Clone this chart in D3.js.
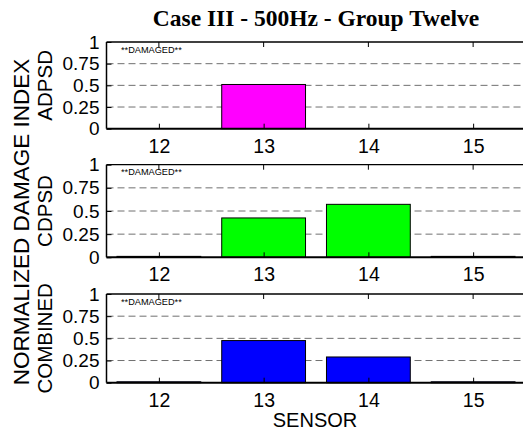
<!DOCTYPE html>
<html><head><meta charset="utf-8">
<script src="https://cdn.jsdelivr.net/npm/d3@7"></script>
<style>body{margin:0;background:#fff}svg{display:block}</style>
</head><body>
<script>
const title = "Case III - 500Hz - Group Twelve";
const sensors = [12, 13, 14, 15];
const adpsd = [0, 0.51, 0, 0];
const cdpsd = [0.01, 0.425, 0.572, 0.01];
const combined = [0.01, 0.475, 0.29, 0.01];
const yTicks = [0, 0.25, 0.5, 0.75, 1];
const yTickLabels = ["0", "0.25", "0.5", "0.75", "1"];
const panelNames = ["ADPSD", "CDPSD", "COMBINED"];
const panelColors = ["#ff00ff", "#00ff00", "#0000ff"];
const series = [adpsd, cdpsd, combined];
const yLabel = "NORMALIZED DAMAGE INDEX";
const xLabel = "SENSOR";
const note = "**DAMAGED**";

const W = 523, H = 430;
const svg = d3.select("body").append("svg").attr("width", W).attr("height", H);
const font = "Liberation Sans, Arial, sans-serif";

const x = d3.scaleLinear().domain([11.5, 15.5]).range([106.5, 525.5]);
const panels = [[42, 128.7], [164.7, 257.3], [294, 382.7]];

svg.append("text").attr("x", 316).attr("y", 26).attr("text-anchor", "middle")
  .attr("font-family", "Liberation Serif, Times New Roman, serif").attr("font-weight", "bold")
  .attr("font-size", 23.5).text(title);

panels.forEach(([top, bottom], i) => {
  const y = d3.scaleLinear().domain([0, 1]).range([bottom, top]);
  const g = svg.append("g");
  g.selectAll("line.grid").data([0.25, 0.5, 0.75]).join("line")
    .attr("x1", x.range()[0]).attr("x2", W).attr("y1", d => y(d)).attr("y2", d => y(d))
    .attr("stroke", "#707070").attr("stroke-width", 1).attr("stroke-dasharray", "7,4");
  const data = sensors.map((s, j) => ({s, v: series[i][j]}));
  const bw = (x(1) - x(0)) * 0.8;
  g.selectAll("rect").data(data.filter(d => d.v > 0)).join("rect")
    .attr("x", d => x(d.s) - bw / 2).attr("width", bw)
    .attr("y", d => y(d.v)).attr("height", d => y(0) - y(d.v))
    .attr("fill", panelColors[i]).attr("stroke", "#000").attr("stroke-width", 1);
  const yAxis = d3.axisLeft(y).tickValues(yTicks).tickFormat((d, k) => yTickLabels[k]).tickSize(-5).tickPadding(7);
  const ya = g.append("g").attr("transform", `translate(${x.range()[0]},0)`).call(yAxis);
  ya.select(".domain").remove();
  ya.selectAll("text").attr("font-family", font).attr("font-size", 19).attr("fill", "#000");
  ya.selectAll("line").attr("stroke", "#000");
  const xAxis = d3.axisBottom(x).tickValues(sensors).tickFormat(d3.format("d")).tickSize(-5).tickPadding(10);
  const xa = g.append("g").attr("transform", `translate(0,${bottom})`).call(xAxis);
  xa.select(".domain").remove();
  xa.selectAll("text").attr("font-family", font).attr("font-size", 19.5).attr("fill", "#000");
  xa.selectAll("line").attr("stroke", "#000");
  g.selectAll("line.tt").data(sensors).join("line").attr("class", "tt")
    .attr("x1", d => x(d)).attr("x2", d => x(d)).attr("y1", top).attr("y2", top + 5)
    .attr("stroke", "#000");
  g.append("line").attr("x1", x.range()[0]).attr("x2", W).attr("y1", top).attr("y2", top).attr("stroke", "#000").attr("stroke-width", 1.3);
  g.append("line").attr("x1", x.range()[0]).attr("x2", W).attr("y1", bottom).attr("y2", bottom).attr("stroke", "#000").attr("stroke-width", 2);
  g.append("line").attr("x1", x.range()[0]).attr("x2", x.range()[0]).attr("y1", top).attr("y2", bottom).attr("stroke", "#000").attr("stroke-width", 1.5);
  g.append("text").attr("x", 121).attr("y", top + 10.5).attr("font-family", font).attr("font-size", 9.2).text(note);
  g.append("text").attr("transform", `translate(52,${(top + bottom) / 2}) rotate(-90)`)
    .attr("text-anchor", "middle").attr("font-family", font).attr("font-size", 20.5).text(panelNames[i]);
});

svg.append("text").attr("transform", `translate(28.5,222) rotate(-90)`)
  .attr("text-anchor", "middle").attr("font-family", font).attr("font-size", 22.5).text(yLabel);
svg.append("text").attr("x", 315).attr("y", 426.5).attr("text-anchor", "middle")
  .attr("font-family", font).attr("font-size", 20).text(xLabel);
</script>
</body></html>
